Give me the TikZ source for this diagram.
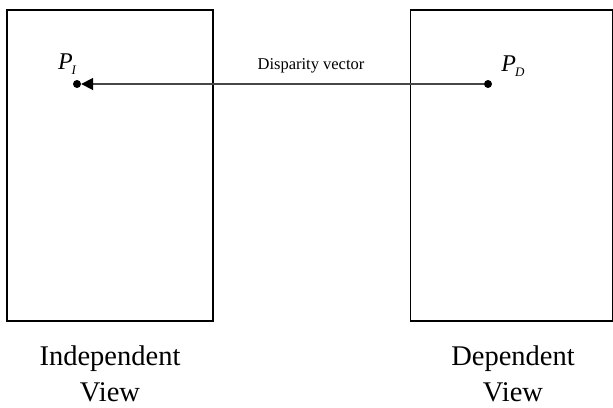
\documentclass[tikz,border=0pt]{standalone}
\usepackage{fontspec}
\setmainfont{Liberation Serif}
\usepackage{tikz}
\usetikzlibrary{arrows.meta,positioning}

\newcommand{\ptlabel}[1]{{\fontsize{24}{24}\selectfont\itshape P\kern-1pt\raisebox{-5pt}{\fontsize{13}{13}\selectfont #1}}}

\begin{document}
\begin{tikzpicture}[x=1pt, y=-1pt,
  view/.style={rectangle, draw, line width=1.6pt, inner sep=0pt},
  dot/.style={circle, fill, inner sep=0pt, minimum size=8pt},
  vec/.style={-{Triangle[length=12pt,width=12pt,color=black]}, draw=black!72, line width=1.8pt},
  caption/.style={align=center, font=\fontsize{28.5}{36}\selectfont}
]
\useasboundingbox (0,0) rectangle (613,407);

% views
\node[view, minimum width=206pt, minimum height=311pt] (indep) at (110,165.5) {};
\node[view, minimum width=202pt, minimum height=311pt] (dep) at (511.5,165.5) {};

% points and vector
\node[dot] (pi) at (77,84) {};
\node[dot] (pd) at (488,84) {};
\draw[vec] (pd) -- (pi);

\node (pilab) at (67,64) {\ptlabel{I}};
\node (pdlab) at (513,66) {\ptlabel{D}};
\node[font=\fontsize{16.5}{16.5}\selectfont] (vlab) at (311,66) {Disparity vector};

\node[caption] (indeplab) at (110,374) {Independent\\View};
\node[caption] (deplab) at (513,374) {Dependent\\View};
\end{tikzpicture}
\end{document}
